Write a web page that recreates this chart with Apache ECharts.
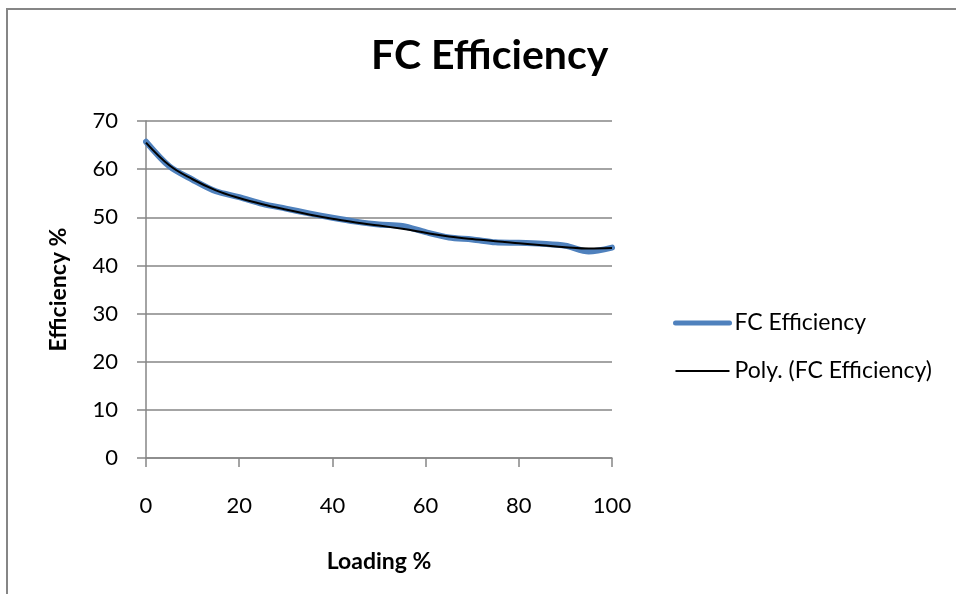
<!DOCTYPE html>
<html>
<head>
<meta charset="utf-8">
<script src="https://cdn.jsdelivr.net/npm/echarts@6/dist/echarts.min.js"></script>
<style>
html,body{margin:0;padding:0;background:#fff;}
#chart{width:956px;height:594px;}
</style>
</head>
<body>
<div id="chart"></div>
<script>
const loading = [0,5,10,15,20,25,30,35,40,45,50,55,60,65,70,75,80,85,90,95,100];
const efficiency = [65.7,60.6,57.8,55.4,54.2,52.8,51.8,50.8,49.9,49.1,48.5,48.2,46.9,45.8,45.4,44.8,44.7,44.5,44.1,42.9,43.7];
const polyFit = [65.5,60.8,57.9,55.6,54.0,52.7,51.6,50.6,49.7,48.9,48.3,47.6,46.8,46.0,45.5,45.0,44.6,44.2,43.8,43.5,43.6];
const xTicks = [0,20,40,60,80,100];
const yTicks = [0,10,20,30,40,50,60,70];

const FONT = 'Lato';
const GRAY = '#868686';

const chart = echarts.init(document.getElementById('chart'), null, {renderer:'canvas'});
chart.setOption({
  animation:false,
  backgroundColor:'#ffffff',
  textStyle:{fontFamily:FONT,color:'#000'},
  title:{
    text:'FC Efficiency',
    left:366, top:30,
    textStyle:{fontFamily:FONT,fontWeight:'bold',fontSize:41,color:'#000'}
  },
  graphic:[{
    type:'rect', shape:{x:7,y:9,width:1000,height:700},
    style:{fill:'none',stroke:GRAY,lineWidth:2}, silent:true
  }],
  legend:{
    orient:'vertical', left:673, top:311, padding:0,
    itemWidth:54, itemHeight:24, itemGap:24,
    itemStyle:{opacity:0},
    textStyle:{fontFamily:FONT,fontSize:23,color:'#000',lineHeight:24},
    data:[
      {name:'FC Efficiency', lineStyle:{width:5,color:'#4F81BD',cap:'round'}},
      {name:'Poly. (FC Efficiency)', lineStyle:{width:2,color:'#000000'}}
    ]
  },
  grid:{left:146,right:344,top:121,bottom:136,containLabel:false},
  xAxis:{
    type:'value', min:xTicks[0], max:xTicks[xTicks.length-1], interval:20,
    name:'Loading %', nameLocation:'middle', nameGap:92,
    nameTextStyle:{fontFamily:FONT,fontWeight:'bold',fontSize:23,color:'#000'},
    axisLine:{show:true,lineStyle:{color:GRAY,width:1.5}},
    axisTick:{show:true,inside:false,length:9,lineStyle:{color:GRAY,width:1.5}},
    axisLabel:{margin:37,fontFamily:FONT,fontSize:22,color:'#000'},
    splitLine:{show:false}
  },
  yAxis:{
    type:'value', min:yTicks[0], max:yTicks[yTicks.length-1], interval:10,
    name:'Efficiency %', nameLocation:'middle', nameGap:76, nameRotate:90,
    nameTextStyle:{fontFamily:FONT,fontWeight:'bold',fontSize:23,color:'#000'},
    axisLine:{show:true,lineStyle:{color:GRAY,width:1.5}},
    axisTick:{show:true,inside:false,length:9,lineStyle:{color:GRAY,width:1.5}},
    axisLabel:{margin:28,fontFamily:FONT,fontSize:22,color:'#000'},
    splitLine:{show:true,lineStyle:{color:GRAY,width:1.5}}
  },
  series:[
    {
      name:'FC Efficiency', type:'line', smooth:0.3, showSymbol:false, symbol:'none',
      data:loading.map((x,i)=>[x,efficiency[i]]),
      lineStyle:{color:'#4F81BD',width:6,cap:'round',join:'round'},
      itemStyle:{color:'#4F81BD'}, z:2
    },
    {
      name:'Poly. (FC Efficiency)', type:'line', smooth:0.4, showSymbol:false, symbol:'none',
      data:loading.map((x,i)=>[x,polyFit[i]]),
      lineStyle:{color:'#000000',width:2},
      itemStyle:{color:'#000000'}, z:3
    }
  ]
});
</script>
</body>
</html>
